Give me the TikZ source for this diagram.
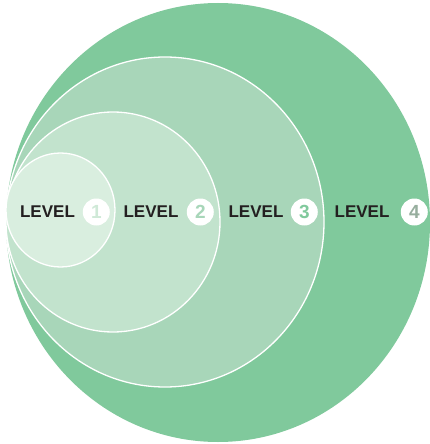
\documentclass[tikz,border=0pt]{standalone}
\usepackage{fontspec}
\newfontfamily\lvlfont{Liberation Sans}
\usetikzlibrary{positioning}
\definecolor{ringA}{HTML}{D9EEDF}
\definecolor{ringB}{HTML}{C2E3CD}
\definecolor{ringC}{HTML}{A8D6B9}
\definecolor{ringD}{HTML}{80C99C}
\definecolor{numA}{HTML}{CFE9D7}
\definecolor{numD}{HTML}{97AE9E}
\definecolor{ink}{HTML}{231F20}

\begin{document}
\begin{tikzpicture}[x=1pt,y=-1pt,
  ring/.style={draw=white,line width=1.3pt},
  lvl/.style={inner sep=0pt,text=ink,font=\lvlfont\bfseries\fontsize{17}{17}\selectfont},
  badge/.style={circle,fill=white,minimum size=27pt,inner sep=0pt,font=\lvlfont\bfseries\fontsize{19}{19}\selectfont}]
  \useasboundingbox (0,0) rectangle (430,444);
  % rings, outermost first
  \fill[ringD] (218,222.5) ellipse [x radius=212,y radius=219.5];
  \draw[ring,fill=ringC] (165,222) ellipse [x radius=159,y radius=165];
  \draw[ring,fill=ringB] (113,222) ellipse [x radius=107,y radius=110];
  \draw[ring,fill=ringA] (60.5,210) ellipse [x radius=54.5,y radius=57];
  % labels
  \node[lvl] (t1) at (47.5,212) {LEVEL};
  \node[badge,text=numA,right=7.5pt of t1] (b1) {1};
  \node[lvl] (t2) at (151,212) {LEVEL};
  \node[badge,text=ringC,right=8pt of t2] (b2) {2};
  \node[lvl] (t3) at (256,212) {LEVEL};
  \node[badge,text=ringD,right=7pt of t3] (b3) {3};
  \node[lvl] (t4) at (362,212) {LEVEL};
  \node[badge,text=numD,right=11pt of t4] (b4) {4};
\end{tikzpicture}
\end{document}
